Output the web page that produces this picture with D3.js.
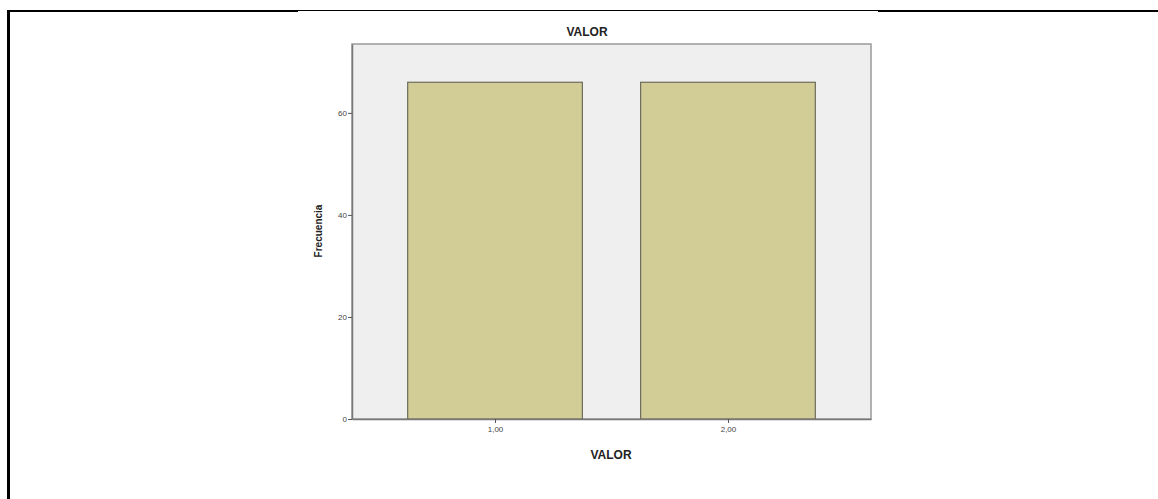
<!DOCTYPE html>
<html><head><meta charset="utf-8">
<script src="https://cdn.jsdelivr.net/npm/d3@7"></script>
<style>body{margin:0;background:#fff;} svg{display:block;}</style>
</head><body>
<svg id="c" width="1158" height="499"></svg>
<script>
const categories = [1, 2];
const categoryLabels = ["1,00", "2,00"];
const frequencies = [66, 66];
const yTicks = [0, 20, 40, 60];
const chartTitle = "VALOR";
const xTitle = "VALOR";
const yTitle = "Frecuencia";

const svg = d3.select("#c");
// page frame lines
svg.append("line").attr("x1",7).attr("x2",298).attr("y1",11).attr("y2",11).attr("stroke","#000").attr("stroke-width",2);
svg.append("line").attr("x1",298).attr("x2",878).attr("y1",10.5).attr("y2",10.5).attr("stroke","#000").attr("stroke-width",1);
svg.append("line").attr("x1",878).attr("x2",1158).attr("y1",11).attr("y2",11).attr("stroke","#000").attr("stroke-width",2);
svg.append("line").attr("x1",8.5).attr("x2",8.5).attr("y1",10).attr("y2",499).attr("stroke","#000").attr("stroke-width",3);

const L = 352, R = 871, T = 44, B = 419;
const x = d3.scaleLinear().domain([0.386, 2.614]).range([L, R]);
const y = d3.scaleLinear().domain([0, 73.5]).range([B, T]);
const bw = 0.75;

svg.append("rect").attr("x",L).attr("y",T).attr("width",R-L).attr("height",B-T)
  .attr("fill","#efefef").attr("stroke","#9a9a9a").attr("stroke-width",1.5);

svg.selectAll("rect.bar").data(frequencies).join("rect").attr("class","bar")
  .attr("x",(d,i)=>x(categories[i]-bw/2))
  .attr("width",(d,i)=>x(categories[i]+bw/2)-x(categories[i]-bw/2))
  .attr("y",d=>y(d)).attr("height",d=>B-y(d))
  .attr("fill","#d2cd96").attr("stroke","#6e6c5c").attr("stroke-width",1.2);

const ya = svg.append("g").attr("transform",`translate(${L},0)`)
  .call(d3.axisLeft(y).tickValues(yTicks).tickSize(4).tickSizeOuter(0));
ya.select(".domain").attr("stroke","#777").attr("stroke-width",1.5);
ya.selectAll(".tick line").attr("stroke","#555");
ya.selectAll(".tick text").attr("font-family","Liberation Sans, Arial, sans-serif").attr("font-size",8).attr("fill","#444").attr("x",-5);

const xa = svg.append("g").attr("transform",`translate(0,${B})`)
  .call(d3.axisBottom(x).tickValues(categories).tickFormat((d,i)=>categoryLabels[i]).tickSize(4).tickSizeOuter(0));
xa.select(".domain").attr("stroke","#777").attr("stroke-width",1.5);
xa.selectAll(".tick line").attr("stroke","#555");
xa.selectAll(".tick text").attr("font-family","Liberation Sans, Arial, sans-serif").attr("font-size",8).attr("fill","#444").attr("y",7);

svg.append("text").attr("x",587).attr("y",36).attr("text-anchor","middle")
  .attr("font-family","Liberation Sans, Arial, sans-serif").attr("font-size",12).attr("font-weight","bold").attr("fill","#222").text(chartTitle);
svg.append("text").attr("x",611).attr("y",459).attr("text-anchor","middle")
  .attr("font-family","Liberation Sans, Arial, sans-serif").attr("font-size",12).attr("font-weight","bold").attr("fill","#222").text(xTitle);
svg.append("text").attr("transform","translate(322,231) rotate(-90)").attr("text-anchor","middle")
  .attr("font-family","Liberation Sans, Arial, sans-serif").attr("font-size",10).attr("font-weight","bold").attr("fill","#222").text(yTitle);
</script>
</body></html>
